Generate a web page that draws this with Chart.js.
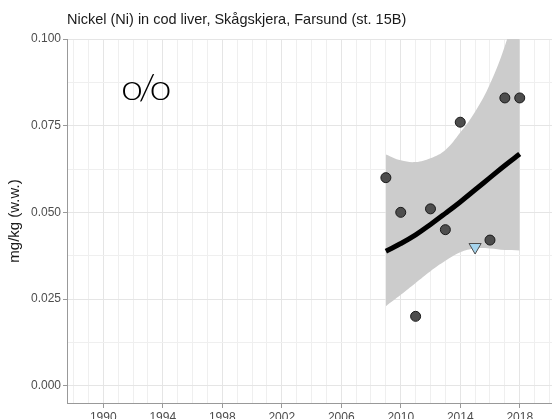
<!DOCTYPE html>
<html>
<head>
<meta charset="utf-8">
<script src="https://cdn.jsdelivr.net/npm/chart.js@4.4.0/dist/chart.umd.min.js"></script>
<style>
  html, body { margin: 0; padding: 0; background: #fff; }
  #wrap { width: 552px; height: 419px; }
</style>
</head>
<body>
<div id="wrap"><canvas id="chart"></canvas></div>
<script>
// measured values (mg/kg w.w.)
const years = [2009, 2010, 2011, 2012, 2013, 2014, 2015, 2016, 2017, 2018];
const values = [0.060, 0.050, 0.020, 0.051, 0.045, 0.076, null, 0.042, 0.083, 0.083];
// below LOQ (drawn as triangle)
const loqYears = [2015];
const loqValues = [0.040];

// smoothed trend and its confidence band
const trendYears = [2009, 2010, 2011, 2012, 2013, 2014, 2015, 2016, 2017, 2018];
const trendValues = [0.0388, 0.0410, 0.0435, 0.0465, 0.0497, 0.0530, 0.0565, 0.0600, 0.0635, 0.0668];
const bandUpper = [0.0667, 0.0650, 0.0645, 0.0656, 0.0680, 0.0730, 0.0790, 0.0870, 0.0980, 0.1120];
const bandLower = [0.0229, 0.0262, 0.0296, 0.0330, 0.0360, 0.0385, 0.0396, 0.0396, 0.0391, 0.0390];

const xMajor = [1990, 1994, 1998, 2002, 2006, 2010, 2014, 2018];
const yMajor = [0, 0.025, 0.05, 0.075, 0.1];

const titleText = 'Nickel (Ni) in cod liver, Skågskjera, Farsund (st. 15B)';
const yTitle = 'mg/kg (w.w.)';
const markText = 'o/o';

const pts = (xs, ys) => xs.map((x, i) => ({ x: x, y: ys[i] })).filter(p => p.y !== null);
const isMajor = (list, v) => list.some(m => Math.abs(m - v) < 1e-6);

const xTicks = [];
for (let y = 1988; y <= 2020; y++) xTicks.push(y);
const yTicks = [];
for (let i = 0; i <= 8; i++) yTicks.push(i * 0.0125);

const FONT = '"Liberation Sans", Arial, sans-serif';

const extras = {
  id: 'extras',
  afterDraw(chart) {
    const ctx = chart.ctx;
    const area = chart.chartArea;
    ctx.save();
    ctx.fillStyle = '#1a1a1a';
    ctx.font = '14.5px ' + FONT;
    ctx.textAlign = 'left';
    ctx.textBaseline = 'middle';
    ctx.fillText(titleText, area.left, 20);
    // the o/o mark, a light font stretched a little wider
    ctx.fillStyle = '#000';
    ctx.font = '300 35px Lato, ' + FONT;
    ctx.textBaseline = 'alphabetic';
    ctx.letterSpacing = '-4px';
    ctx.translate(121, 100);
    ctx.scale(1.13, 1);
    ctx.fillText(markText, 0, 0);
    ctx.restore();
  }
};

new Chart(document.getElementById('chart'), {
  type: 'scatter',
  data: {
    datasets: [
      {
        label: 'measured',
        data: pts(years, values),
        pointRadius: 5,
        pointBackgroundColor: '#4d4d4d',
        pointBorderColor: '#1a1a1a',
        pointBorderWidth: 1,
        order: 0
      },
      {
        label: 'below LOQ',
        data: pts(loqYears, loqValues),
        pointStyle: 'triangle',
        rotation: 180,
        pointRadius: 7,
        pointBackgroundColor: '#a6d5ee',
        pointBorderColor: '#4d4d4d',
        pointBorderWidth: 1,
        order: 0
      },
      {
        label: 'trend',
        type: 'line',
        data: pts(trendYears, trendValues),
        borderColor: '#000',
        borderWidth: 5,
        pointRadius: 0,
        tension: 0.4,
        fill: false,
        order: 1
      },
      {
        label: 'upper',
        type: 'line',
        data: pts(trendYears, bandUpper),
        borderWidth: 0,
        borderColor: 'rgba(0,0,0,0)',
        backgroundColor: '#cccccc',
        pointRadius: 0,
        tension: 0.4,
        fill: '+1',
        order: 2
      },
      {
        label: 'lower',
        type: 'line',
        data: pts(trendYears, bandLower),
        borderWidth: 0,
        borderColor: 'rgba(0,0,0,0)',
        pointRadius: 0,
        tension: 0.4,
        fill: false,
        order: 3
      }
    ]
  },
  options: {
    responsive: true,
    maintainAspectRatio: false,
    animation: false,
    layout: { autoPadding: false, padding: { left: 6, top: 39, right: 0, bottom: 0 } },
    plugins: {
      legend: { display: false },
      tooltip: { enabled: false },
      title: { display: false }
    },
    scales: {
      x: {
        type: 'linear',
        min: 1987.56,
        max: 2020.17,
        afterBuildTicks: (scale) => { scale.ticks = xTicks.map(v => ({ value: v })); },
        afterFit: (scale) => {
          scale.height = 16;
          scale.paddingLeft = 0;
          scale.paddingRight = 0;
        },
        ticks: {
          autoSkip: false,
          maxRotation: 0,
          padding: 2,
          color: '#4d4d4d',
          font: { family: FONT, size: 12 },
          callback: (v) => isMajor(xMajor, v) ? String(v) : ''
        },
        grid: {
          color: (c) => isMajor(xMajor, c.tick ? c.tick.value : 0) ? '#e5e5e5' : '#efefef',
          tickLength: 5,
          tickColor: (c) => isMajor(xMajor, c.tick ? c.tick.value : 0) ? '#999999' : 'rgba(0,0,0,0)'
        },
        border: { display: true, color: '#999999', width: 1 }
      },
      y: {
        type: 'linear',
        min: -0.005,
        max: 0.1,
        afterBuildTicks: (scale) => { scale.ticks = yTicks.map(v => ({ value: v })); },
        afterFit: (scale) => {
          scale.width = 61;
          scale.paddingTop = 0;
          scale.paddingBottom = 0;
        },
        title: {
          display: true,
          text: yTitle,
          color: '#1a1a1a',
          padding: 0,
          font: { family: FONT, size: 15 }
        },
        ticks: {
          autoSkip: false,
          padding: 2,
          color: '#4d4d4d',
          font: { family: FONT, size: 12 },
          callback: (v) => isMajor(yMajor, v) ? v.toFixed(3) : ''
        },
        grid: {
          color: (c) => isMajor(yMajor, c.tick ? c.tick.value : 0) ? '#e5e5e5' : '#efefef',
          tickLength: 4,
          tickColor: (c) => isMajor(yMajor, c.tick ? c.tick.value : 0) ? '#999999' : 'rgba(0,0,0,0)'
        },
        border: { display: true, color: '#999999', width: 1 }
      }
    }
  },
  plugins: [extras]
});
</script>
</body>
</html>
